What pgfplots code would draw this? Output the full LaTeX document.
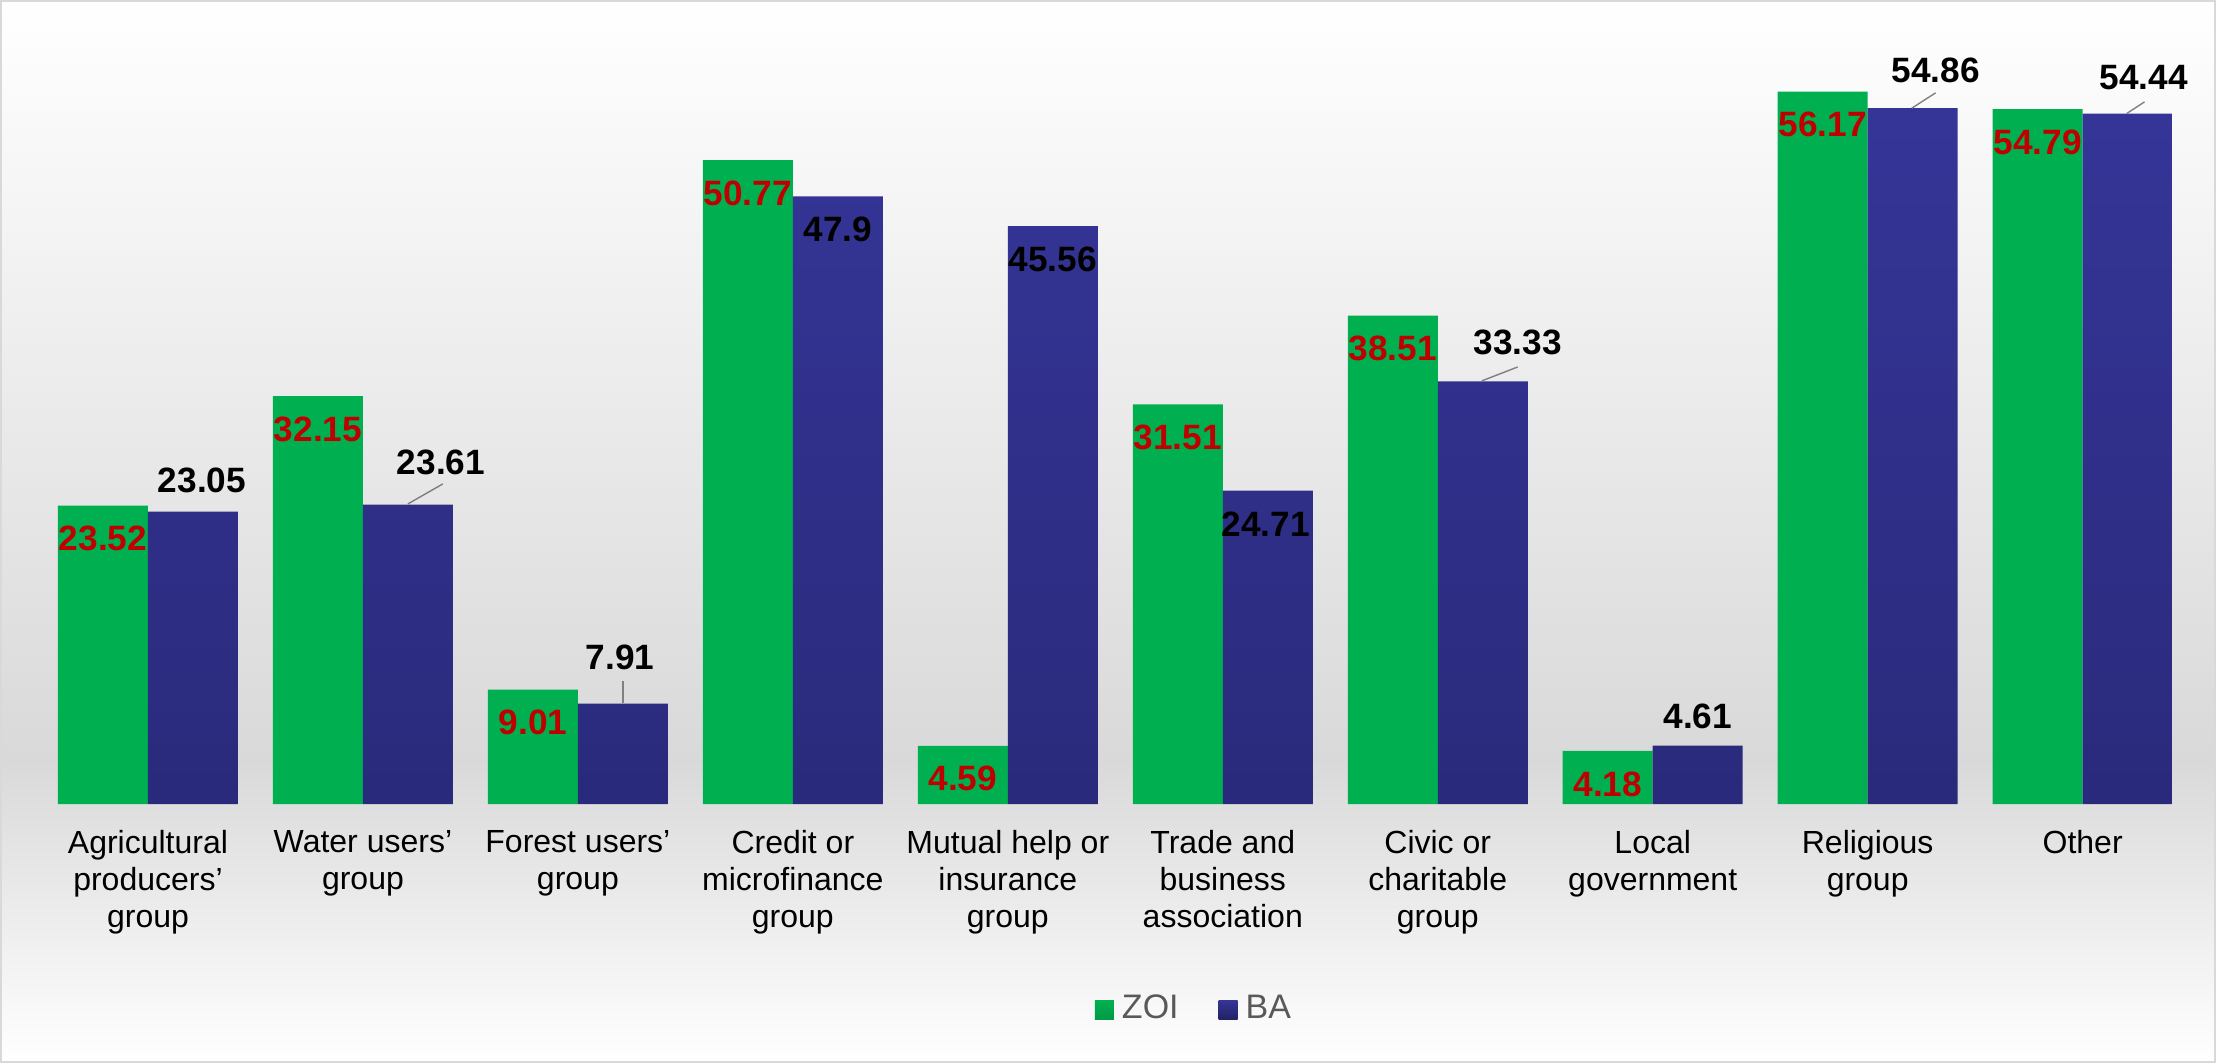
\documentclass[border=0pt]{standalone}
\usepackage{fontspec}
\setmainfont{Liberation Sans}
\usepackage{pgfplots}
\usepackage{pgfplotstable}
\pgfplotsset{compat=1.18}

\definecolor{zoigreen}{HTML}{00B050}
\definecolor{zoigreendk}{HTML}{009A45}
\definecolor{bablue}{HTML}{353598}
\definecolor{babluedk}{HTML}{2A2A7C}
\definecolor{labred}{HTML}{C00000}
\definecolor{bggray}{HTML}{D9D9D9}
\definecolor{legendgray}{HTML}{595959}

% x, ZOI, BA, offset of the BA label from the bar top (pt)
\pgfplotstableread{
x zoi ba dx dy
0 23.52 23.05 2.25 7.9
1 32.15 23.61 8.25 10.5
2 9.01 7.91 -0.75 11.5
3 50.77 47.9 0 -8.25
4 4.59 45.56 0 -8.25
5 31.51 24.71 -0.5 -8.5
6 38.51 33.33 8.75 9.75
7 4.18 4.61 0 7.25
8 56.17 54.86 5.75 9.5
9 54.79 54.44 4 9
}\datatable

\begin{document}
\begin{tikzpicture}
% background
\shade[top color=white, bottom color=bggray] (0pt,75.75pt) rectangle (554pt,265.75pt);
\shade[top color=bggray, bottom color=white] (0pt,0pt) rectangle (554pt,75.75pt);
\draw[bggray, line width=0.5pt] (0.25pt,0.25pt) rectangle (553.75pt,265.5pt);

\begin{axis}[
    at={(10.125pt,64.75pt)}, anchor=south west,
    scale only axis,
    width=537.4pt, height=190.25pt,
    ybar=0pt,
    bar width=22.5pt,
    xmin=-0.5, xmax=9.5,
    ymin=0, ymax=60,
    axis line style={draw=none},
    ytick=\empty,
    xtick={0,...,9},
    major tick length=0pt,
    xticklabels={{Agricultural\\producers’\\group},{Water users’\\group},{Forest users’\\group},{Credit or\\microfinance\\group},{Mutual help or\\insurance\\group},{Trade and\\business\\association},{Civic or\\charitable\\group},{Local\\government},{Religious\\group},{Other}},
    xticklabel style={anchor=north, inner sep=0pt, yshift=-6.4pt, align=center,
        font=\fontsize{8}{9.25}\selectfont},
    clip=false,
    /pgf/number format/assume math mode=true,
    nodes near coords,
    legend style={at={(0.538,-0.2707)}, anchor=center, draw=none, fill=none,
        legend columns=2, font=\fontsize{8.5}{10}\selectfont, text=legendgray,
        /tikz/every even column/.append style={column sep=8pt}},
]
\addplot[fill=zoigreen, draw=none,
    every node near coord/.append style={anchor=center, yshift=-8.25pt,
        text=labred, font=\fontsize{8.8}{10}\selectfont\bfseries},
    legend image code/.code={\path[top color=zoigreen, bottom color=zoigreendk, draw=none] (0pt,-2.375pt) rectangle (4.75pt,2.375pt);}]
    table[x=x, y=zoi]{\datatable};
\addlegendentry{ZOI}
\addplot[top color=bablue, bottom color=babluedk, draw=none,
    visualization depends on={\thisrow{dx} \as \dx},
    visualization depends on={\thisrow{dy} \as \dy},
    every node near coord/.append style={anchor=center, xshift=\dx pt, yshift=\dy pt,
        text=black, font=\fontsize{8.8}{10}\selectfont\bfseries},
    legend image code/.code={\path[top color=bablue, bottom color=babluedk!80!black, draw=none] (0pt,-2.375pt) rectangle (4.75pt,2.375pt);}]
    table[x=x, y=ba]{\datatable};
\addlegendentry{BA}

% leader lines
\draw[gray, line width=0.35pt] (axis cs:1.209,23.66) -- (axis cs:1.372,25.24);
\draw[gray, line width=0.35pt] (axis cs:2.209,7.97) -- (axis cs:2.209,9.70);
\draw[gray, line width=0.35pt] (axis cs:6.205,33.36) -- (axis cs:6.372,34.46);
\draw[gray, line width=0.35pt] (axis cs:8.205,54.86) -- (axis cs:8.316,56.07);
\draw[gray, line width=0.35pt] (axis cs:9.205,54.44) -- (axis cs:9.288,55.36);
\end{axis}
\end{tikzpicture}
\end{document}
